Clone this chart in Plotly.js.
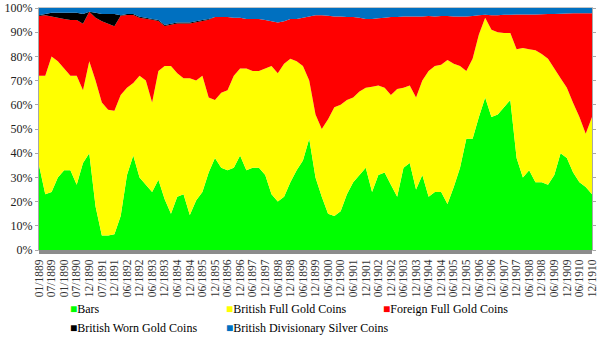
<!DOCTYPE html>
<html><head><meta charset="utf-8">
<script src="https://cdn.plot.ly/plotly-3.0.1.min.js"></script>
<style>html,body{margin:0;padding:0;background:#fff}#chart{width:600px;height:337px}</style>
</head><body><div id="chart"></div>
<script>
const tickLabels = ["01/1889","07/1889","01/1890","07/1890","12/1890","07/1891","12/1891","06/1892","12/1892","06/1893","12/1893","06/1894","12/1894","06/1895","12/1895","06/1896","12/1896","06/1897","12/1897","06/1898","12/1898","06/1899","12/1899","06/1900","12/1900","06/1901","12/1901","06/1902","12/1902","06/1903","12/1903","06/1904","12/1904","06/1905","12/1905","06/1906","12/1906","06/1907","12/1907","06/1908","12/1908","06/1909","12/1909","06/1910","12/1910"];

const bars = [35,23,24,30,33,33,27,36,40,18,6,6,6.5,14,31,39,30,27,24,29,21,15,22,23,14.5,20.5,24,32,38,34,33,34,39,33,34,34,31,23,20,22,28,33,37,46,30,22,15,14,16,23,28,31,34,24,31,32,27,22,34,36,25,31,22,24,24,19,26,34,46,46,55,63,55,56,59,62,38,30,33,28,28,27,31,40,38,32,28,26,23];
const britishFullGold = [37,49,56,48,42,39,45,30,38,52,55,52,51,50,36,30,42,43,37,45,55,61,51,48,56.5,49.5,48,31,24,31,33,38,36,42,40,40,44,53,53,55,51,45,39,24,26,28,39,45,44,39,35,34.5,33,43.5,37,35,37,44.5,33,32,38,39,52,52,52.5,59.5,51,42,28,33,34,33,36,34,30.7,27.7,45,53.5,50,54.5,53,52,44,31,29,28.7,27,22,32];
const foreignFullGold = [24.7,25,16.5,18,20.5,23,23,27.5,20.5,26,33.5,35.5,35,32.8,30.1,28.1,24,25.6,34.1,20.6,16.6,17.1,20.6,22.6,22.6,24.1,22.6,32.1,34.3,31.3,30.3,24,21,20.5,21.5,21.5,20,18.5,21,17.5,16.5,17.5,20,26.5,41,47,42.8,37.5,36.5,34.3,33.3,30.5,28.5,28,27.8,29,32.3,29.8,29.5,28.5,33.5,26.5,22.7,20.5,20.2,18.2,19.5,20.5,22.5,17.7,8,1.2,6,7,7.5,7.5,14.3,13.8,14.3,14.8,16.4,18.5,22.5,26.6,30.7,37.1,42.8,49.8,42.8];
const britishWornGold = [0.3,0.5,1.5,2,2.5,3,3,4,0,2,3,4,5,0.2,0.4,0.4,0.4,0.4,0.4,0.4,0.4,0.4,0.4,0.4,0.4,0.4,0.4,0.4,0,0,0,0,0,0,0,0,0,0,0,0,0,0,0,0,0,0,0,0,0,0,0,0,0,0,0,0,0,0,0,0,0,0,0,0,0,0,0,0,0,0,0,0,0,0,0,0,0,0,0,0,0,0,0,0,0,0,0,0,0];
const britishDivisionarySilver = [3,2.5,2,2,2,2,2,2.5,1.5,2,2.5,2.5,2.5,3,2.5,2.5,3.6,4,4.5,5,7,6.5,6,6,6,5.5,5,4.5,3.7,3.7,3.7,4,4,4.5,4.5,4.5,5,5.5,6,5.5,4.5,4.5,4,3.5,3,3,3.2,3.5,3.5,3.7,3.7,4,4.5,4.5,4.2,4,3.7,3.7,3.5,3.5,3.5,3.5,3.3,3.5,3.3,3.3,3.5,3.5,3.5,3.3,3,2.8,3,3,2.8,2.8,2.7,2.7,2.7,2.7,2.6,2.5,2.5,2.4,2.3,2.2,2.2,2.2,2.2];

const seriesNames = ["Bars","British Full Gold Coins","Foreign Full Gold Coins","British Worn Gold Coins","British Divisionary Silver Coins"];
const seriesColors = ["#00FF00","#FFFF00","#FF0000","#000000","#0070C0"];
const seriesValues = [bars, britishFullGold, foreignFullGold, britishWornGold, britishDivisionarySilver];

const xIdx = bars.map((_, i) => i);
const step = (bars.length - 1) / (tickLabels.length - 1);
const tickPos = tickLabels.map((_, k) => k * step);

const traces = seriesValues.map((vals, s) => ({
  type: 'scatter', x: xIdx, y: vals, name: seriesNames[s],
  mode: 'none', stackgroup: 'one', groupnorm: 'percent',
  fillcolor: seriesColors[s], line: {width: 0}, showlegend: false, hoverinfo: 'skip'
}));

const serif = 'Times New Roman, Liberation Serif, DejaVu Serif, serif';
const legendPos = [[70, 309], [226, 309], [383, 309], [70, 328], [226, 328]];
const plotL = 39, plotW = 553, plotB = 250, plotH = 242;
const annotations = seriesNames.map((n, s) => ({
  xref: 'paper', yref: 'paper', xanchor: 'left', yanchor: 'middle',
  x: (legendPos[s][0] - 2 - plotL) / plotW, y: (plotB - legendPos[s][1]) / plotH,
  text: '<span style="color:' + seriesColors[s] + '">■</span>' + n,
  showarrow: false, font: {family: serif, size: 12, color: '#000'}
}));

const layout = {
  width: 600, height: 337,
  margin: {l: 39, r: 8, t: 8, b: 87},
  paper_bgcolor: '#fff', plot_bgcolor: '#fff',
  font: {family: serif},
  showlegend: false,
  xaxis: {range: [0, bars.length - 1], tickmode: 'array', tickvals: tickPos, ticktext: tickLabels,
    tickangle: -90, tickfont: {family: serif, size: 11.5, color: '#333'}, showgrid: false, zeroline: false,
    showline: true, linecolor: '#c4c4c4', mirror: true, ticks: '', ticklabelstandoff: 4, fixedrange: true},
  yaxis: {range: [0, 100], tickmode: 'linear', tick0: 0, dtick: 10, ticksuffix: '%',
    tickfont: {family: serif, size: 12, color: '#222'}, showgrid: false, zeroline: false,
    showline: true, linecolor: '#a8a8a8', mirror: 'allticks', ticks: 'outside', ticklen: 3, tickcolor: '#a8a8a8', fixedrange: true},
  shapes: [{type: 'rect', xref: 'paper', yref: 'paper', x0: 0, x1: 1, y0: 0, y1: -4/plotH,
    fillcolor: '#8C8C8C', line: {width: 0}, layer: 'above'}],
  annotations: annotations
};

Plotly.newPlot('chart', traces, layout, {displayModeBar: false, staticPlot: true});
</script></body></html>
